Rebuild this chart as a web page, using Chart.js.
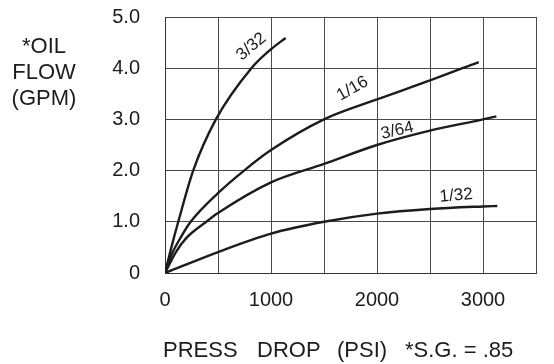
<!DOCTYPE html>
<html>
<head>
<meta charset="utf-8">
<script src="https://cdn.jsdelivr.net/npm/chart.js@4.4.0/dist/chart.umd.min.js"></script>
<style>
  html, body { margin: 0; padding: 0; background: #fff; }
  #wrap { width: 554px; height: 364px; }
</style>
</head>
<body>
<div id="wrap"><canvas id="flowChart" width="554" height="364"></canvas></div>
<script>
// Orifice curves: pressure drop (PSI) vs oil flow (GPM)
const press332 = [0, 60, 125, 266, 480, 815, 1000, 1138];
const flow332  = [0, 0.5, 1.0, 2.0, 3.0, 4.0, 4.37, 4.59];

const press116 = [0, 60, 150, 242, 500, 746, 1000, 1500, 2000, 2500, 2960];
const flow116  = [0, 0.35, 0.7, 1.0, 1.56, 2.0, 2.4, 3.0, 3.39, 3.76, 4.12];

const press364 = [0, 100, 200, 390, 500, 1000, 1500, 2000, 2500, 3000, 3126];
const flow364  = [0, 0.4, 0.68, 1.0, 1.17, 1.77, 2.13, 2.5, 2.78, 3.0, 3.06];

const press132 = [0, 500, 1000, 1500, 2000, 2500, 3000, 3135];
const flow132  = [0, 0.41, 0.77, 1.0, 1.16, 1.25, 1.30, 1.31];

// curve labels: text, position (psi, gpm) and rotation in degrees
const curveNames  = ['3/32', '1/16', '3/64', '1/32'];
const labelPsi    = [815, 1769, 2192, 2747];
const labelGpm    = [4.42, 3.60, 2.78, 1.51];
const labelAngle  = [-40, -30, -13, -5];

const yTitle = ['*OIL', 'FLOW', '(GPM)'];
const xTitle = ['PRESS', 'DROP', '(PSI)', '*S.G. = .85'];

const FONT = "'Liberation Sans', Arial, sans-serif";
const INK = '#1c1c1c';

function toPoints(xs, ys) {
    return xs.map((x, i) => ({ x: x, y: ys[i] }));
}

function curve(xs, ys) {
    return {
        data: toPoints(xs, ys),
        borderColor: INK,
        borderWidth: 2.4,
        pointRadius: 0,
        fill: false,
        cubicInterpolationMode: 'monotone'
    };
}

// draws the curve names and the axis titles as text on the canvas
const textPlugin = {
    id: 'chartText',
    afterDraw(chart) {
        const ctx = chart.ctx;
        const xs = chart.scales.x, ys = chart.scales.y;
        ctx.save();
        ctx.fillStyle = INK;
        ctx.textBaseline = 'middle';

        ctx.font = '17px ' + FONT;
        ctx.textAlign = 'center';
        curveNames.forEach((name, i) => {
            ctx.save();
            ctx.translate(xs.getPixelForValue(labelPsi[i]), ys.getPixelForValue(labelGpm[i]));
            ctx.rotate(labelAngle[i] * Math.PI / 180);
            ctx.fillText(name, 0, 0);
            ctx.restore();
        });

        ctx.font = '22px ' + FONT;
        ctx.textAlign = 'center';
        yTitle.forEach((t, i) => ctx.fillText(t, 44, 47 + i * 26));

        ctx.textAlign = 'left';
        const xStart = [163, 257, 337, 405];
        xTitle.forEach((t, i) => ctx.fillText(t, xStart[i], 351));
        ctx.restore();
    }
};

const ctx = document.getElementById('flowChart').getContext('2d');
new Chart(ctx, {
    type: 'line',
    data: {
        datasets: [
            curve(press332, flow332),
            curve(press116, flow116),
            curve(press364, flow364),
            curve(press132, flow132)
        ]
    },
    options: {
        responsive: false,
        animation: false,
        layout: { padding: { left: 0, top: 17, right: 18, bottom: 0 } },
        plugins: {
            legend: { display: false },
            tooltip: { enabled: false }
        },
        scales: {
            x: {
                type: 'linear',
                min: 0,
                max: 3500,
                afterFit: s => { s.height = 91; s.paddingLeft = 0; s.paddingRight = 0; },
                grid: { color: '#4a4a4a', lineWidth: 1, drawTicks: false },
                border: { color: '#333', width: 1 },
                ticks: {
                    stepSize: 500,
                    autoSkip: false,
                    maxRotation: 0,
                    padding: 15,
                    color: INK,
                    font: { family: FONT, size: 20 },
                    callback: v => (v % 1000 === 0 ? String(v) : '')
                }
            },
            y: {
                min: 0,
                max: 5,
                afterFit: s => { s.width = 165; s.paddingTop = 0; s.paddingBottom = 0; },
                grid: { color: '#4a4a4a', lineWidth: 1, drawTicks: false },
                border: { color: '#333', width: 1 },
                ticks: {
                    stepSize: 1,
                    padding: 25,
                    color: INK,
                    font: { family: FONT, size: 20 },
                    callback: v => (v === 0 ? '0' : v.toFixed(1))
                }
            }
        }
    },
    plugins: [textPlugin]
});
</script>
</body>
</html>
